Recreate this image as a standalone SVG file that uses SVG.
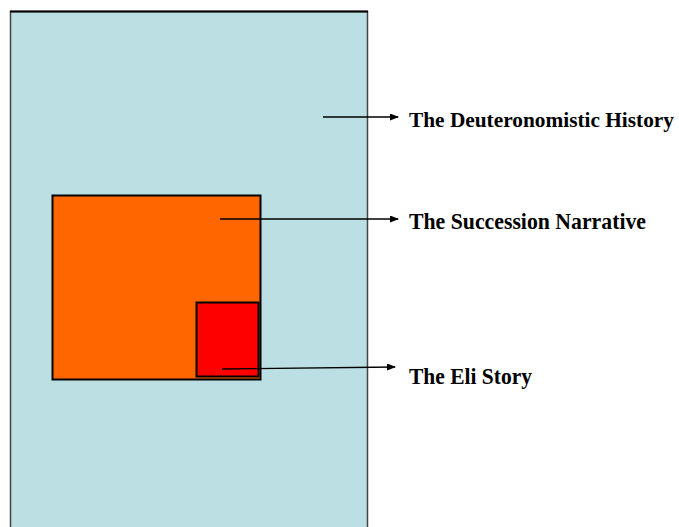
<svg xmlns="http://www.w3.org/2000/svg" width="679" height="527" viewBox="0 0 679 527">
  <style>
    .lbl { font-family: "Liberation Serif", "Times New Roman", serif; font-weight: bold; font-size: 23px; fill: #000; }
    .conn { stroke: #000; stroke-width: 1.3; fill: none; }
  </style>
  <defs>
    <marker id="arr" markerWidth="9" markerHeight="7" refX="8" refY="3.5" orient="auto" markerUnits="userSpaceOnUse">
      <path d="M0,0 L9,3.5 L0,7 Z" fill="#000"/>
    </marker>
  </defs>
  <rect width="679" height="527" fill="#fff"/>
  <g id="deuteronomistic">
    <rect x="10.5" y="11.5" width="357" height="520" fill="#bbdfe2" stroke="#444" stroke-width="1.5"/>
    <line x1="10" y1="11.5" x2="368" y2="11.5" stroke="#000" stroke-width="2"/>
  </g>
  <g id="succession">
    <rect x="52.5" y="195.5" width="208" height="184" fill="#ff6600" stroke="#000" stroke-width="2"/>
  </g>
  <g id="eli">
    <rect x="196.5" y="302.5" width="62" height="74" fill="#ff0000" stroke="#000" stroke-width="2"/>
  </g>
  <g id="connectors">
    <line class="conn" x1="323" y1="117" x2="398" y2="117" marker-end="url(#arr)"/>
    <line class="conn" x1="220" y1="219" x2="398" y2="219" marker-end="url(#arr)"/>
    <line class="conn" x1="222" y1="369" x2="395" y2="367" marker-end="url(#arr)"/>
  </g>
  <g id="labels">
    <text class="lbl" x="409" y="127" style="font-size:21px" textLength="265" lengthAdjust="spacingAndGlyphs">The Deuteronomistic History</text>
    <text class="lbl" x="409" y="229" textLength="237" lengthAdjust="spacingAndGlyphs">The Succession Narrative</text>
    <text class="lbl" x="409" y="384" textLength="123" lengthAdjust="spacingAndGlyphs">The Eli Story</text>
  </g>
</svg>
